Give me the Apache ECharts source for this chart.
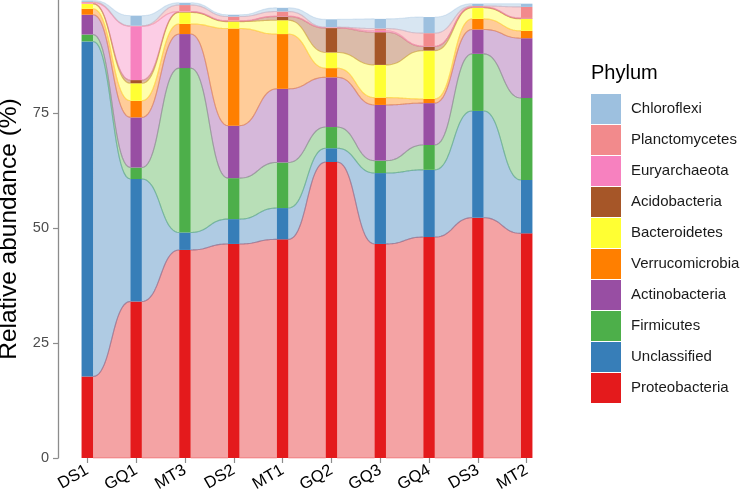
<!DOCTYPE html>
<html>
<head>
<meta charset="utf-8">
<script src="https://cdn.jsdelivr.net/npm/echarts@6/dist/echarts.min.js"></script>
<style>
  html, body { margin: 0; padding: 0; background: #fff; }
  #chart { width: 744px; height: 498px; }
</style>
</head>
<body>
<div id="chart"></div>
<script>
const categories = ['DS1', 'GQ1', 'MT3', 'DS2', 'MT1', 'GQ2', 'GQ3', 'GQ4', 'DS3', 'MT2'];

// relative abundance (%) per sample, stacked bottom to top
const Proteobacteria  = [17.7, 34.0, 45.2, 46.5, 47.5, 64.3, 46.5, 48.0, 52.2, 48.8];
const Unclassified    = [72.8, 26.6, 3.8, 5.4, 6.8, 3.0, 15.4, 14.6, 23.2, 11.6];
const Firmicutes      = [1.5, 2.5, 35.7, 8.9, 9.9, 4.6, 2.7, 5.4, 12.4, 17.8];
const Actinobacteria  = [4.3, 10.9, 7.4, 11.4, 16.0, 10.8, 12.1, 9.1, 5.3, 13.0];
const Verrucomicrobia = [1.3, 3.6, 2.2, 21.1, 11.9, 2.0, 1.6, 0.9, 2.3, 1.6];
const Bacteroidetes   = [1.1, 3.8, 2.5, 1.5, 3.0, 3.4, 7.1, 10.5, 2.4, 2.6];
const Acidobacteria   = [0.0, 0.7, 0.1, 0.1, 0.8, 5.3, 7.1, 0.9, 0.1, 0.1];
const Euryarchaeota   = [0.2, 11.7, 0.1, 0.1, 0.1, 0.1, 0.3, 0.1, 0.1, 0.1];
const Planctomycetes  = [0.2, 0.1, 1.4, 0.9, 1.0, 0.1, 0.5, 2.8, 0.2, 2.4];
const Chloroflexi     = [0.3, 2.2, 0.5, 0.4, 0.8, 1.7, 2.1, 3.5, 0.5, 0.7];

const yTicks = [0, 25, 50, 75];

const phyla = [
    ['Proteobacteria', Proteobacteria, '#E41A1C'],
    ['Unclassified', Unclassified, '#377EB8'],
    ['Firmicutes', Firmicutes, '#4DAF4A'],
    ['Actinobacteria', Actinobacteria, '#984EA3'],
    ['Verrucomicrobia', Verrucomicrobia, '#FF7F00'],
    ['Bacteroidetes', Bacteroidetes, '#FFFF33'],
    ['Acidobacteria', Acidobacteria, '#A65628'],
    ['Euryarchaeota', Euryarchaeota, '#F781BF'],
    ['Planctomycetes', Planctomycetes, '#F28A8C'],
    ['Chloroflexi', Chloroflexi, '#9DC0DF']
];

const barW = 0.235; // bar width in category units
const fontFamily = '"Liberation Sans", Arial, sans-serif';

// cumulative bottoms / tops
let base = categories.map(() => 0);
const stacks = phyla.map(([name, vals]) => {
    const lo = base.slice();
    const hi = vals.map((v, i) => lo[i] + v);
    base = hi;
    return { lo, hi };
});

function bez(a, b, c, d, t) {
    const u = 1 - t;
    return u * u * u * a + 3 * u * u * t * b + 3 * u * t * t * c + t * t * t * d;
}

function curve(x0, y0, x1, y1, steps) {
    const xm = (x0 + x1) / 2;
    const pts = [];
    for (let s = 0; s <= steps; s++) {
        const t = s / steps;
        pts.push([bez(x0, xm, xm, x1, t), bez(y0, y0, y1, y1, t)]);
    }
    return pts;
}

function makeRender(k, color) {
    const st = stacks[k];
    return function (params, api) {
        const i = api.value(0);
        const lo = api.value(1);
        const hi = api.value(2);
        const a = api.coord([i - barW / 2, hi]);
        const b = api.coord([i + barW / 2, lo]);
        const children = [{
            type: 'rect',
            z2: 10,
            shape: { x: a[0], y: a[1], width: b[0] - a[0], height: b[1] - a[1] },
            style: { fill: color }
        }];
        if (i < categories.length - 1) {
            const x0 = b[0];
            const x1 = api.coord([i + 1 - barW / 2, 0])[0];
            const yTop0 = a[1], yBot0 = b[1];
            const yTop1 = api.coord([i + 1, st.hi[i + 1]])[1];
            const yBot1 = api.coord([i + 1, st.lo[i + 1]])[1];
            const top = curve(x0, yTop0, x1, yTop1, 24);
            const bot = curve(x0, yBot0, x1, yBot1, 24);
            children.push({
                type: 'polygon',
                z2: 0,
                shape: { points: top.concat(bot.slice().reverse()) },
                style: { fill: color, opacity: 0.4 }
            });
            [top, bot].forEach(line => {
                children.push({
                    type: 'polyline',
                    z2: 1,
                    shape: { points: line },
                    style: { stroke: color, opacity: 0.35, lineWidth: 1.1, fill: null }
                });
            });
        }
        return { type: 'group', children };
    };
}

const chart = echarts.init(document.getElementById('chart'));

const option = {
    animation: false,
    backgroundColor: '#fff',
    color: phyla.map(p => p[2]),
    title: {
        text: 'Phylum',
        left: 586,
        top: 58,
        textStyle: { fontFamily, fontSize: 20, fontWeight: 'normal', color: '#000' }
    },
    legend: {
        orient: 'vertical',
        left: 586,
        top: 89,
        icon: 'rect',
        itemWidth: 30,
        itemHeight: 30,
        itemGap: 1,
        data: phyla.map(p => p[0]).reverse(),
        textStyle: { fontFamily, fontSize: 15, color: '#1a1a1a', padding: [0, 0, 0, 5] }
    },
    grid: { left: 58, right: 188, top: 0, bottom: 40, outerBoundsMode: 'none', containLabel: false },
    xAxis: {
        type: 'value',
        min: -0.6,
        max: 9.6,
        axisLine: { show: false, onZero: false },
        splitLine: { show: false },
        axisTick: {
            show: true,
            length: 5,
            customValues: categories.map((c, i) => i),
            lineStyle: { color: '#8c8c8c', width: 1.2 }
        },
        axisLabel: {
            customValues: categories.map((c, i) => i),
            formatter: v => categories[Math.round(v)],
            rotate: 30,
            margin: 11,
            fontFamily,
            fontSize: 16.5,
            color: '#000'
        }
    },
    yAxis: {
        type: 'value',
        min: 0,
        max: 99.5,
        name: 'Relative abundance (%)',
        nameLocation: 'middle',
        nameGap: 32,
        nameTextStyle: { fontFamily, fontSize: 24.5, color: '#000' },
        splitLine: { show: false },
        axisLine: { show: true, onZero: false, lineStyle: { color: '#8c8c8c', width: 1.3 } },
        axisTick: {
            show: true,
            length: 5,
            customValues: yTicks,
            lineStyle: { color: '#8c8c8c', width: 1.2 }
        },
        axisLabel: {
            customValues: yTicks,
            margin: 9,
            fontFamily,
            fontSize: 14.5,
            color: '#4d4d4d'
        }
    },
    series: phyla.map(([name, vals, color], k) => ({
        name,
        type: 'custom',
        itemStyle: { color },
        renderItem: makeRender(k, color),
        encode: { x: 0, y: [1, 2] },
        data: categories.map((c, i) => [i, stacks[k].lo[i], stacks[k].hi[i]])
    }))
};

chart.setOption(option);
</script>
</body>
</html>
